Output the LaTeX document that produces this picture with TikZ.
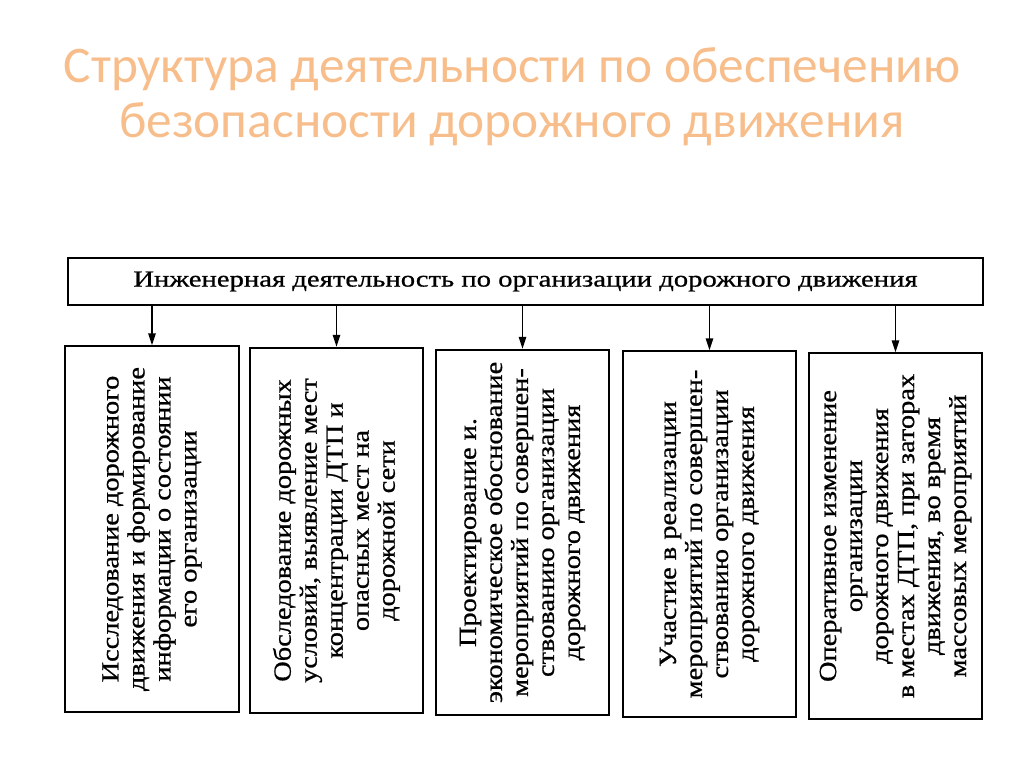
\documentclass[tikz,border=0pt]{standalone}
\usepackage{fontspec}
\setmainfont{Liberation Serif}
\newfontfamily\titlefont{Carlito}
\newfontfamily\boxfont[FakeStretch=1.15,FakeBold=0.8]{Liberation Serif}
\newfontfamily\headfont[FakeStretch=1.25,FakeBold=0.8]{Liberation Serif}
\usetikzlibrary{arrows.meta}
\definecolor{titleorange}{RGB}{247,190,140}

\begin{document}
\begin{tikzpicture}[x=0.75pt, y=-0.75pt,
  topbox/.style={draw, line width=1.5pt, minimum width=686pt, minimum height=35pt,
    inner sep=0pt, font=\headfont\fontsize{17.2}{20}\selectfont},
  itembox/.style={draw, line width=1.5pt, rotate=90, minimum width=274pt, minimum height=130pt,
    inner sep=0pt, align=center, font=\boxfont\fontsize{18.5}{19.5}\selectfont},
  arr/.style={-{Triangle[length=9pt,width=5.5pt]}, line width=1.2pt}]
  \useasboundingbox (0,0) rectangle (1024,767);
  % title
  \node[font=\titlefont\fontsize{38.5}{41}\selectfont, text=titleorange, align=center] (title)
    at (512,97) {Структура деятельности по обеспечению\\безопасности дорожного движения};
  % top box
  \node[topbox] (eng) at (525.5,281.5) {Инженерная деятельность по организации дорожного движения};
  % the five kinds of activity
  \node[itembox] (b1) at (152,529) {Исследование дорожного\\движения и формирование\\информации о состоянии\\его организации};
  \node[itembox] (b2) at (336.5,530.5) {Обследование дорожных\\условий, выявление мест\\концентрации ДТП и\\опасных мест на\\дорожной сети};
  \node[itembox] (b3) at (522.5,532.5) {Проектирование и.\\экономическое обоснование\\мероприятий по совершен-\\ствованию организации\\дорожного движения};
  \node[itembox] (b4) at (709.5,534) {Участие в реализации\\мероприятий по совершен-\\ствованию организации\\дорожного движения};
  \node[itembox] (b5) at (895.5,536) {Оперативное изменение\\организации\\дорожного движения\\в местах ДТП, при заторах\\движения, во время\\массовых мероприятий};
  % arrows
  \foreach \b in {b1,b2,b3,b4,b5}
    \draw[arr] (eng.south -| \b.east) -- (\b.east);
\end{tikzpicture}
\end{document}
